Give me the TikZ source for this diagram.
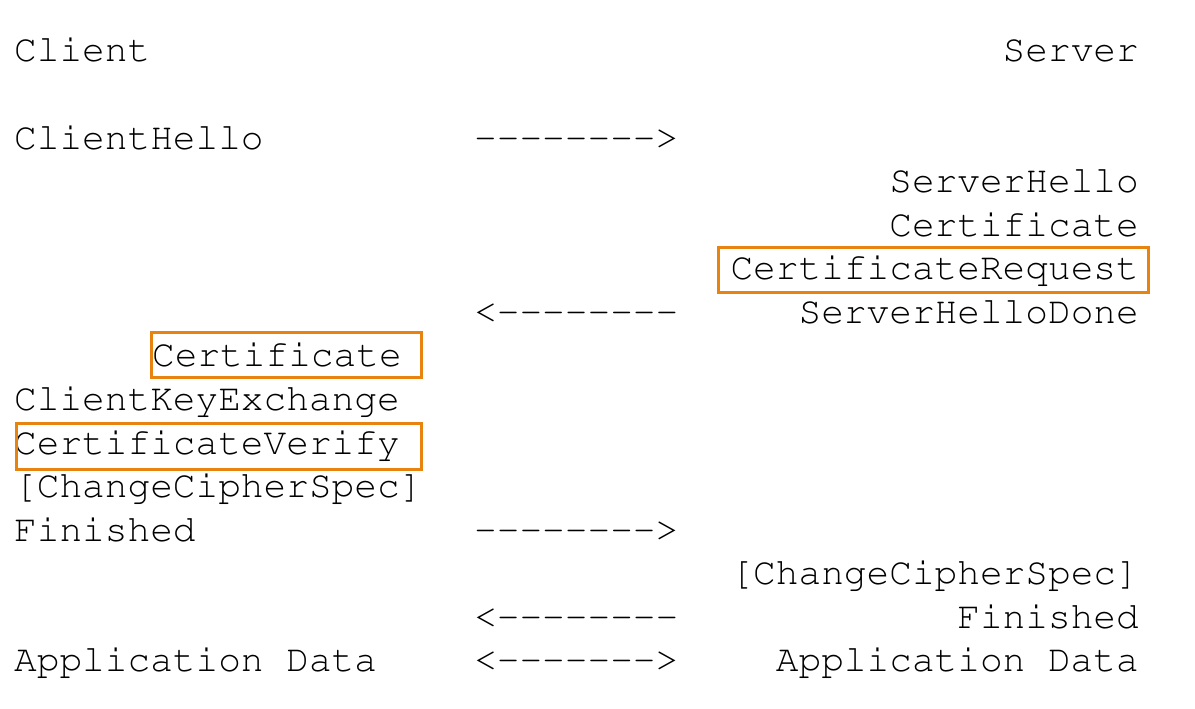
\documentclass[tikz,border=0pt]{standalone}
\usepackage[T1]{fontenc}
\usepackage{tikz}
\newcommand\codefont{\fontencoding{T1}\fontfamily{pcr}\selectfont}
\definecolor{hlorange}{HTML}{E8830F}

\begin{document}
\begin{tikzpicture}[x=1pt, y=-43.57pt,
  main/.style = {font=\codefont\fontsize{37.8pt}{43.57pt}\selectfont, anchor=base west, inner sep=0pt},
  right/.style = {main, anchor=base east},
  hl/.style = {draw=hlorange, line width=3pt}]
\useasboundingbox (-14pt,62pt) rectangle (1181pt,-647pt);
\node[main] (1) at (0,0) {Client};
\node[right] (2) at (1125,0) {Server};
\node[main] (3) at (0,2) {ClientHello};
\node[main] (4) at (460,2) {-{}-{}-{}-{}-{}-{}-{}->};
\node[right] (5) at (1125,3) {ServerHello};
\node[right] (6) at (1125,4) {Certificate};
\node[right] (7) at (1125,5) {CertificateRequest};
\node[main] (8) at (460,6) {<-{}-{}-{}-{}-{}-{}-{}-};
\node[right] (9) at (1125,6) {ServerHelloDone};
\node[main] (10) at (138,7) {Certificate};
\node[main] (11) at (0,8) {ClientKeyExchange};
\node[main] (12) at (0,9) {CertificateVerify};
\node[main] (13) at (0,10) {[ChangeCipherSpec]};
\node[main] (14) at (0,11) {Finished};
\node[main] (15) at (460,11) {-{}-{}-{}-{}-{}-{}-{}->};
\node[right] (16) at (1125,12) {[ChangeCipherSpec]};
\node[main] (17) at (460,13) {<-{}-{}-{}-{}-{}-{}-{}-};
\node[right] (18) at (1125,13) {Finished};
\node[main] (19) at (0,14) {Application Data};
\node[main] (20) at (460,14) {<-{}-{}-{}-{}-{}-{}->};
\node[right] (21) at (1125,14) {Application Data};
% highlighted messages
\draw[hl] (704pt,-185pt) rectangle (1134pt,-230pt);
\draw[hl] (137pt,-270pt) rectangle (407pt,-315pt);
\draw[hl] (2pt,-361pt) rectangle (407pt,-407pt);
\end{tikzpicture}
\end{document}
